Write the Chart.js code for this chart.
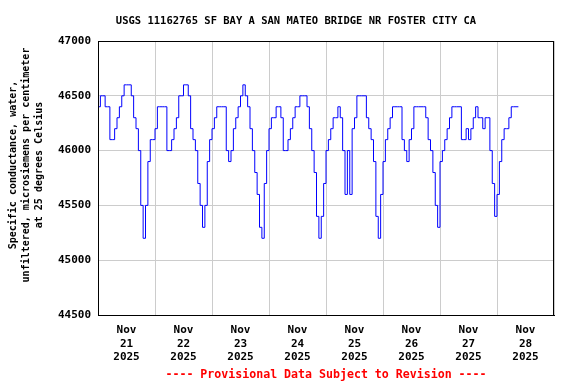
<!DOCTYPE html>
<html>
<head>
<meta charset="utf-8">
<script src="https://cdn.jsdelivr.net/npm/chart.js@4/dist/chart.umd.min.js"></script>
<style>
  body { margin: 0; background: #fff; }
  #wrap { width: 576px; height: 384px; position: relative; }
</style>
</head>
<body>
<div id="wrap"><canvas id="grafico"></canvas></div>
<script>
const stationTitle = 'USGS 11162765 SF BAY A SAN MATEO BRIDGE NR FOSTER CITY CA';
const yAxisLines = ['Specific conductance, water,', 'unfiltered, microsiemens per centimeter', 'at 25 degrees Celsius'];
const footerText = '---- Provisional Data Subject to Revision ----';

const tickMonth = 'Nov';
const tickDays = ['21', '22', '23', '24', '25', '26', '27', '28'];
const tickYear = '2025';
const yMin = 44500;
const yMax = 47000;
const yStep = 500;

// hourly readings, first one at Nov 21 2025 00:00
const conductance = [
    46400, 46500, 46500, 46400, 46400, 46100, 46100, 46200, 46300, 46400, 46500, 46600,
    46600, 46600, 46500, 46300, 46200, 46000, 45500, 45200, 45500, 45900, 46100, 46100,
    46200, 46400, 46400, 46400, 46400, 46000, 46000, 46100, 46200, 46300, 46500, 46500,
    46600, 46600, 46500, 46200, 46100, 46000, 45700, 45500, 45300, 45500, 45900, 46100,
    46200, 46300, 46400, 46400, 46400, 46400, 46000, 45900, 46000, 46200, 46300, 46400,
    46500, 46600, 46500, 46400, 46200, 46000, 45800, 45600, 45300, 45200, 45700, 46000,
    46200, 46300, 46300, 46400, 46400, 46300, 46000, 46000, 46100, 46200, 46300, 46400,
    46400, 46500, 46500, 46500, 46400, 46200, 46000, 45800, 45400, 45200, 45400, 45700,
    46000, 46100, 46200, 46300, 46300, 46400, 46300, 46000, 45600, 46000, 45600, 46200,
    46300, 46500, 46500, 46500, 46500, 46300, 46200, 46100, 45900, 45400, 45200, 45600,
    45900, 46100, 46200, 46300, 46400, 46400, 46400, 46400, 46100, 46000, 45900, 46100,
    46200, 46400, 46400, 46400, 46400, 46400, 46300, 46100, 46000, 45800, 45500, 45300,
    45900, 46000, 46100, 46200, 46300, 46400, 46400, 46400, 46400, 46100, 46100, 46200,
    46100, 46200, 46300, 46400, 46300, 46300, 46200, 46300, 46300, 46000, 45700, 45400,
    45600, 45900, 46100, 46200, 46200, 46300, 46400, 46400, 46400, 46400
];

const fonte = '"DejaVu Sans Mono", monospace';

const textosPlugin = {
    id: 'textos',
    afterDraw(chart) {
        const ctx = chart.ctx;
        const area = chart.chartArea;
        ctx.save();

        ctx.strokeStyle = '#000';
        ctx.lineWidth = 1;
        ctx.strokeRect(area.left + 0.5, area.top + 0.5, area.right - area.left - 1, area.bottom - area.top);

        ctx.fillStyle = '#000';
        ctx.textAlign = 'center';
        ctx.textBaseline = 'middle';
        ctx.font = 'bold 10.5px ' + fonte;
        ctx.fillText(stationTitle, 296, 21);

        ctx.font = 'bold 10px ' + fonte;
        yAxisLines.forEach((linha, i) => {
            ctx.save();
            ctx.translate(13 + i * 13, 165);
            ctx.rotate(-Math.PI / 2);
            ctx.fillText(linha, 0, 0);
            ctx.restore();
        });

        ctx.fillStyle = '#ff0000';
        ctx.font = 'bold 11.6px ' + fonte;
        ctx.fillText(footerText, (area.left + area.right) / 2, 375);
        ctx.restore();
    }
};

function desenharGrafico() {
    const ctx = document.getElementById('grafico').getContext('2d');
    new Chart(ctx, {
        type: 'line',
        data: {
            datasets: [{
                data: conductance.map((v, i) => ({ x: i, y: v })),
                borderColor: '#0000ff',
                borderWidth: 1,
                pointRadius: 0,
                stepped: true,
                fill: false
            }]
        },
        options: {
            responsive: true,
            maintainAspectRatio: false,
            animation: false,
            layout: { padding: { top: 41, right: 22, left: 0, bottom: 0 } },
            plugins: {
                legend: { display: false },
                tooltip: { enabled: false }
            },
            scales: {
                x: {
                    type: 'linear',
                    min: 0,
                    max: tickDays.length * 24,
                    afterFit: scale => { scale.height = 69; },
                    border: { color: '#000' },
                    grid: {
                        drawTicks: false,
                        color: c => (c.tick && c.tick.value % 24 === 0) ? '#cccccc' : 'rgba(0,0,0,0)'
                    },
                    ticks: {
                        stepSize: 12,
                        autoSkip: false,
                        maxRotation: 0,
                        padding: 9,
                        color: '#000',
                        font: { family: fonte, size: 11, weight: 'bold', lineHeight: 1.2 },
                        callback: v => v % 24 === 12 ? [tickMonth, tickDays[Math.floor(v / 24)], tickYear] : ''
                    }
                },
                y: {
                    min: yMin,
                    max: yMax,
                    afterFit: scale => { scale.width = 98; },
                    border: { color: '#000' },
                    grid: { drawTicks: false, color: '#cccccc' },
                    ticks: {
                        stepSize: yStep,
                        padding: 7,
                        color: '#000',
                        font: { family: fonte, size: 11, weight: 'bold' },
                        callback: v => String(v)
                    }
                }
            }
        },
        plugins: [textosPlugin]
    });
}

desenharGrafico();
</script>
</body>
</html>
